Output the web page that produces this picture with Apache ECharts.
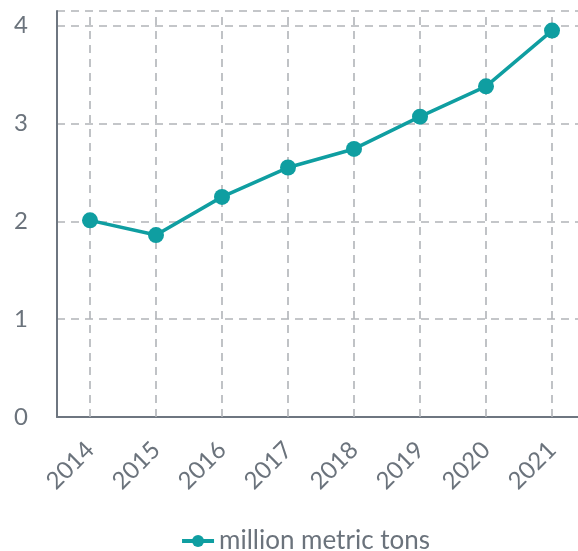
<!DOCTYPE html>
<html>
<head>
<meta charset="utf-8">
<script src="https://cdn.jsdelivr.net/npm/echarts@6/dist/echarts.min.js"></script>
<style>
  html, body { margin: 0; padding: 0; background: #fff; overflow: hidden; }
  #chart { width: 610px; height: 551px; }
</style>
</head>
<body>
<div id="chart"></div>
<script>
// Annual volume, million metric tons
const years = ['2014', '2015', '2016', '2017', '2018', '2019', '2020', '2021'];
const volumes = [2.01, 1.86, 2.25, 2.55, 2.74, 3.07, 3.38, 3.95];
const seriesName = 'million metric tons';

const textColor = '#6b737c';
const axisColor = '#6e7680';
const gridColor = '#b1b4b8';
const lineColor = '#0f9ea1';
const fontFamily = 'Lato, "Noto Sans", sans-serif';

const plotTop = 11;
const plotBottom = 417;

const chart = echarts.init(document.getElementById('chart'), null, { renderer: 'canvas' });

chart.setOption({
  animation: false,
  backgroundColor: '#ffffff',
  grid: { left: 57, top: plotTop, right: 25, height: plotBottom - plotTop, containLabel: false },
  legend: {
    left: 'center',
    top: 523,
    itemWidth: 32,
    itemHeight: 15,
    itemGap: 8,
    lineStyle: { width: 4 },
    textStyle: { color: textColor, fontSize: 26, fontFamily: fontFamily },
    data: [seriesName]
  },
  xAxis: {
    type: 'category',
    data: years,
    boundaryGap: true,
    axisLine: { show: true, lineStyle: { color: axisColor, width: 2 } },
    // vertical guides through each year, drawn as full-height dashed ticks
    axisTick: {
      show: true,
      alignWithLabel: true,
      inside: true,
      interval: 0,
      length: plotBottom - plotTop,
      lineStyle: { color: gridColor, width: 1.6, type: [8, 6] }
    },
    axisLabel: {
      rotate: 45,
      margin: 29,
      color: textColor,
      fontSize: 24,
      fontFamily: fontFamily,
      interval: 0
    },
    splitLine: { show: false }
  },
  yAxis: {
    type: 'value',
    min: 0,
    max: 4.15,
    interval: 1,
    axisLine: { show: true, lineStyle: { color: axisColor, width: 2 } },
    axisTick: { show: false },
    axisLabel: {
      margin: 29,
      color: textColor,
      fontSize: 24,
      fontFamily: fontFamily,
      showMaxLabel: false
    },
    splitLine: {
      show: true,
      lineStyle: { color: gridColor, width: 1.6, type: [8, 6] }
    }
  },
  series: [{
    name: seriesName,
    type: 'line',
    data: volumes,
    symbol: 'circle',
    symbolSize: 16,
    lineStyle: { color: lineColor, width: 3.5 },
    itemStyle: { color: lineColor },
    z: 3
  }]
});
</script>
</body>
</html>
